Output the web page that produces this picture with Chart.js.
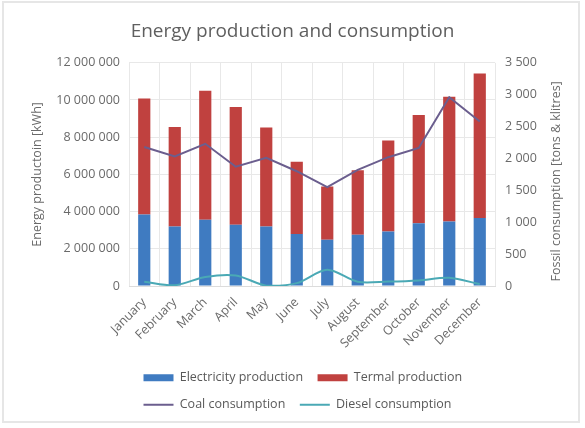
<!DOCTYPE html>
<html>
<head>
<meta charset="utf-8">
<script src="https://cdn.jsdelivr.net/npm/chart.js@4"></script>
<style>
html,body{margin:0;padding:0;background:#fff;}
#wrap{position:relative;width:585px;height:428px;overflow:hidden;}
#c{position:absolute;left:0;top:0;}
#frame{position:absolute;left:2px;top:1px;width:574px;height:418px;border:2px solid #e6e6e6;pointer-events:none;}
</style>
</head>
<body>
<div id="wrap"><canvas id="c" width="585" height="428"></canvas><div id="frame"></div></div>
<script>
const titleText = 'Energy production and consumption';
const leftAxisTitle = 'Energy productoin [kWh]';
const rightAxisTitle = 'Fossil consumption [tons & klitres]';
const months = ['January','February','March','April','May','June','July','August','September','October','November','December'];
const electricity = [3850000, 3200000, 3560000, 3290000, 3200000, 2800000, 2480000, 2750000, 2930000, 3380000, 3470000, 3650000];
const termal = [6230000, 5350000, 6940000, 6340000, 5320000, 3880000, 2870000, 3470000, 4890000, 5820000, 6700000, 7780000];
const coal = [2180, 2030, 2230, 1870, 2010, 1800, 1550, 1820, 2020, 2165, 2960, 2580];
const diesel = [68, 12, 142, 165, 5, 45, 255, 65, 70, 88, 128, 30];
const leftMax = 12000000, leftStep = 2000000;
const rightMax = 3500, rightStep = 500;

const FONT = "'Open Sans', sans-serif";
const TXT = '#6a6a6a';
const fmt = v => String(v).replace(/\B(?=(\d{3})+(?!\d))/g, ' ');

const rightTitlePlugin = {
  id: 'rightTitle',
  afterDraw(chart) {
    const s = chart.scales.y1;
    const ctx = chart.ctx;
    ctx.save();
    ctx.translate(s.right - 29, (s.top + s.bottom) / 2 + 7);
    ctx.rotate(-Math.PI / 2);
    ctx.font = "12.5px " + FONT;
    ctx.fillStyle = TXT;
    ctx.textAlign = 'center';
    ctx.textBaseline = 'middle';
    ctx.fillText(rightAxisTitle, 0, 0);
    ctx.restore();
  }
};

new Chart(document.getElementById('c'), {
  type: 'bar',
  data: {
    labels: months,
    datasets: [
      {label: 'Electricity production', data: electricity, backgroundColor: '#3F7BC1', borderWidth: 0, yAxisID: 'y', stack: 's', order: 2, barPercentage: 0.4, categoryPercentage: 1},
      {label: 'Termal production', data: termal, backgroundColor: '#C0413F', borderWidth: 0, yAxisID: 'y', stack: 's', order: 2, barPercentage: 0.4, categoryPercentage: 1},
      {type: 'line', label: 'Coal consumption', data: coal, borderColor: '#6B5E8E', backgroundColor: '#6B5E8E', borderWidth: 2, pointRadius: 0, yAxisID: 'y1', order: 1, tension: 0},
      {type: 'line', label: 'Diesel consumption', data: diesel, borderColor: '#4AA9B5', backgroundColor: '#4AA9B5', borderWidth: 2, pointRadius: 0, yAxisID: 'y1', order: 1, tension: 0.3}
    ]
  },
  options: {
    responsive: false,
    animation: false,
    layout: {padding: {left: 0, right: 0, top: 0, bottom: 7}},
    scales: {
      x: {
        stacked: true,
        grid: {color: '#e8e8e8', drawTicks: false, offset: true},
        border: {color: '#dcdcdc'},
        ticks: {color: TXT, font: {family: FONT, size: 12.5}, minRotation: 45, maxRotation: 45, autoSkip: false, padding: 9},
        afterFit: s => { s.height = 71; }
      },
      y: {
        stacked: true, position: 'left', min: 0, max: leftMax,
        ticks: {stepSize: leftStep, padding: 9, color: TXT, font: {family: FONT, size: 12.5}, callback: fmt},
        grid: {color: '#e8e8e8', drawTicks: false},
        border: {display: false},
        title: {display: true, text: leftAxisTitle, color: TXT, font: {family: FONT, size: 12.5}, padding: {top: 30, bottom: 0}},
        afterFit: s => { s.width = 129; }
      },
      y1: {
        position: 'right', min: 0, max: rightMax,
        ticks: {stepSize: rightStep, padding: 10, color: TXT, font: {family: FONT, size: 12.5}, callback: fmt},
        grid: {display: false, drawTicks: false},
        border: {display: false},
        afterFit: s => { s.width = 90; }
      }
    },
    plugins: {
      title: {display: true, text: titleText, color: '#5f5f5f', font: {family: FONT, size: 19, weight: 'normal'}, padding: {top: 20, bottom: 20}},
      legend: {
        position: 'bottom', fullSize: false, align: 'start',
        labels: {
          color: '#595959', font: {family: FONT, size: 12.5},
          usePointStyle: true, pointStyleWidth: 30, boxHeight: 7, padding: 14.5,
          generateLabels(chart) {
            const items = Chart.defaults.plugins.legend.labels.generateLabels(chart);
            items.sort((a, b) => a.datasetIndex - b.datasetIndex);
            items.forEach(it => {
              const ds = chart.data.datasets[it.datasetIndex];
              if (ds.type === 'line') { it.pointStyle = 'line'; it.lineWidth = 2; }
              else { it.pointStyle = 'rect'; it.lineWidth = 0; }
            });
            return items;
          }
        }
      },
      tooltip: {enabled: false}
    }
  },
  plugins: [rightTitlePlugin]
});
</script>
</body>
</html>
